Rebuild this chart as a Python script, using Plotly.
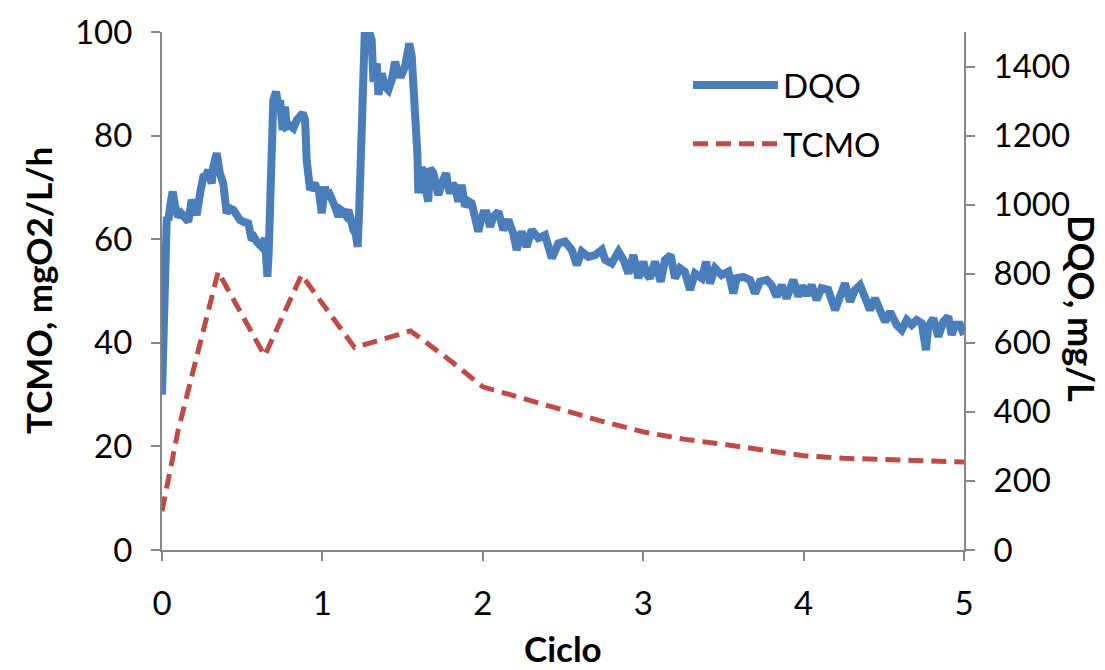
import plotly.graph_objects as go

# ---- data ----
ciclo_dqo = [0.000, 0.008, 0.016, 0.024, 0.030, 0.040, 0.052, 0.067, 0.080, 0.100,
             0.120, 0.140, 0.164, 0.185, 0.200, 0.216, 0.240, 0.258, 0.275, 0.289,
             0.300, 0.310, 0.320, 0.341, 0.360, 0.382, 0.403, 0.420, 0.445, 0.465,
             0.486, 0.510, 0.538, 0.559, 0.575, 0.590, 0.605, 0.621, 0.642, 0.657,
             0.665, 0.673, 0.683, 0.694, 0.711, 0.726, 0.736, 0.752, 0.767, 0.777,
             0.795, 0.819, 0.840, 0.860, 0.877, 0.892, 0.902, 0.923, 0.940, 0.954,
             0.965, 0.975, 0.986, 0.996, 1.016, 1.030, 1.047, 1.060, 1.079, 1.100,
             1.115, 1.130, 1.145, 1.162, 1.172, 1.193, 1.208, 1.220, 1.230, 1.245,
             1.255, 1.265, 1.286, 1.307, 1.318, 1.339, 1.349, 1.370, 1.390, 1.411,
             1.432, 1.453, 1.474, 1.494, 1.515, 1.526, 1.542, 1.557, 1.563, 1.577,
             1.592, 1.598, 1.610, 1.619, 1.630, 1.640, 1.660, 1.671, 1.692, 1.708,
             1.723, 1.744, 1.771, 1.785, 1.796, 1.812, 1.827, 1.847, 1.868, 1.889,
             1.910, 1.931, 1.951, 1.972, 1.983, 2.003, 2.024, 2.045, 2.066, 2.097,
             2.128, 2.159, 2.190, 2.211, 2.242, 2.273, 2.305, 2.346, 2.388, 2.409,
             2.430, 2.471, 2.513, 2.555, 2.586, 2.617, 2.658, 2.700, 2.742, 2.763,
             2.804, 2.846, 2.877, 2.908, 2.939, 2.970, 3.001, 3.020, 3.042, 3.073,
             3.109, 3.136, 3.171, 3.198, 3.229, 3.260, 3.292, 3.323, 3.365, 3.392,
             3.416, 3.448, 3.489, 3.531, 3.562, 3.583, 3.624, 3.666, 3.697, 3.728,
             3.770, 3.801, 3.832, 3.863, 3.894, 3.936, 3.967, 3.990, 4.019, 4.050,
             4.081, 4.112, 4.154, 4.196, 4.227, 4.258, 4.289, 4.320, 4.352, 4.383,
             4.414, 4.445, 4.476, 4.508, 4.539, 4.580, 4.612, 4.643, 4.674, 4.705,
             4.736, 4.763, 4.777, 4.809, 4.840, 4.871, 4.902, 4.923, 4.944, 4.975,
             5.000]
dqo = [450, 560, 760, 900, 965, 955, 1000, 1038, 1000, 965,
       975, 960, 951, 1014, 985, 970, 1040, 1081, 1085, 1100,
       1075, 1062, 1110, 1149, 1092, 1062, 975, 990, 985, 970,
       956, 950, 946, 898, 905, 893, 885, 878, 903, 791,
       860, 956, 1197, 1303, 1327, 1284, 1303, 1216, 1284, 1226,
       1230, 1221, 1245, 1260, 1265, 1245, 1129, 1043, 1060, 1062,
       1040, 1052, 1010, 975, 1052, 1020, 1028, 1005, 994, 965,
       985, 980, 970, 985, 956, 927, 915, 878, 994, 1245,
       1440, 1510, 1510, 1477, 1356, 1409, 1318, 1380, 1342, 1332,
       1361, 1414, 1376, 1376, 1400, 1433, 1467, 1429, 1390, 1265,
       1149, 1033, 1080, 1110, 1060, 1052, 1009, 1105, 1091, 1060,
       1028, 1062, 1091, 1050, 1033, 1060, 1052, 1009, 1057, 994,
       1010, 1004, 965, 922, 946, 975, 975, 936, 965, 980,
       927, 956, 917, 869, 922, 878, 927, 903, 912, 869,
       845, 888, 893, 869, 825, 864, 849, 854, 869, 840,
       830, 864, 840, 801, 854, 787, 835, 800, 787, 835,
       777, 840, 854, 787, 816, 806, 753, 801, 787, 835,
       772, 816, 796, 806, 743, 787, 791, 782, 743, 777,
       782, 767, 734, 767, 729, 782, 734, 765, 738, 767,
       724, 758, 753, 695, 743, 772, 719, 753, 767, 734,
       695, 729, 690, 661, 690, 652, 637, 666, 652, 666,
       657, 579, 647, 671, 618, 661, 676, 623, 652, 652,
       623]

ciclo_tcmo = [0.0, 0.10, 0.35, 0.64, 0.87, 1.20, 1.55, 1.80, 2.0, 2.25, 2.5, 2.75,
              3.0, 3.25, 3.5, 3.75, 4.0, 4.25, 4.5, 4.75, 5.0]
tcmo = [7.5, 23.0, 53.7, 37.5, 53.1, 39.1, 42.3, 36.5, 31.5, 29.2, 27.0, 24.8,
        22.8, 21.4, 20.4, 19.4, 18.2, 17.7, 17.4, 17.2, 17.0]

x_ticks = [0, 1, 2, 3, 4, 5]
y_ticks = [0, 20, 40, 60, 80, 100]
y2_ticks = [0, 200, 400, 600, 800, 1000, 1200, 1400]

FONT = "Lato"
FS = 33
AX = "#868686"

fig = go.Figure()
fig.add_trace(go.Scatter(x=ciclo_dqo, y=dqo, name="DQO", yaxis="y2", mode="lines",
                         legendgroup="a",
                         line=dict(color="#4A7EBB", width=8)))
fig.add_trace(go.Scatter(x=ciclo_tcmo, y=tcmo, name="TCMO", mode="lines",
                         legendgroup="b",
                         line=dict(color="#BE4B48", width=5, dash="15px,8px")))

axis_common = dict(showline=True, linecolor=AX, linewidth=2, ticks="outside",
                   ticklen=9, tickcolor=AX, tickwidth=2, showgrid=False,
                   zeroline=False, tickfont=dict(family=FONT, size=FS, color="black"))

fig.update_layout(
    width=1105, height=670,
    margin=dict(l=162, r=141, t=32, b=120),
    paper_bgcolor="white", plot_bgcolor="white",
    font=dict(family=FONT, size=FS, color="black"),
    xaxis=dict(range=[0, 5], tickvals=x_ticks, ticklabelstandoff=14, **axis_common),
    yaxis=dict(range=[0, 100], tickvals=y_ticks, ticklabelstandoff=12, **axis_common),
    yaxis2=dict(range=[0, 1500], tickvals=y2_ticks, overlaying="y", side="right",
                ticklabelstandoff=12, **axis_common),
    showlegend=True,
    legend=dict(x=(688 - 162) / 802, y=(550 - 57) / 518, xanchor="left", yanchor="top",
                bgcolor="rgba(0,0,0,0)", itemwidth=85, tracegroupgap=13,
                font=dict(family=FONT, size=FS, color="black")),
    annotations=[
        dict(text="<b>Ciclo</b>", xref="paper", yref="paper", x=0.5,
             y=(550 - 648) / 518, xanchor="center", yanchor="middle",
             showarrow=False, font=dict(family=FONT, size=FS + 2)),
        dict(text="<b>TCMO, mgO2/L/h</b>", xref="paper", yref="paper",
             x=(38 - 162) / 802, y=0.5, xanchor="center", yanchor="middle",
             textangle=-90, showarrow=False, font=dict(family=FONT, size=FS + 2)),
        dict(text="<b>DQO, mg/L</b>", xref="paper", yref="paper",
             x=(1082 - 162) / 802, y=(550 - 308) / 518, xanchor="center",
             yanchor="middle", textangle=90, showarrow=False,
             font=dict(family=FONT, size=FS + 3)),
    ],
)

fig.write_html("out.html")
